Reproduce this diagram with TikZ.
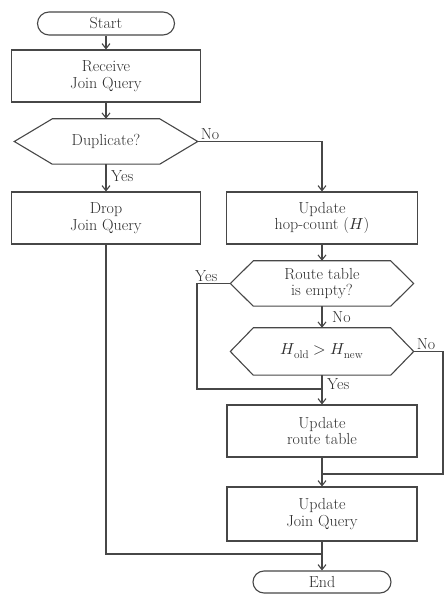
\documentclass[tikz,border=0pt]{standalone}
\usepackage{fontspec}
\usepackage{unicode-math}
\usetikzlibrary{shapes.misc,arrows.meta,calc}
\newcommand\nodefont{\fontsize{16}{16.5}\selectfont}
\newcommand\hexdraw[2]{\draw[line] (#1.west) -- ([xshift=#2]#1.north west) -- ([xshift=-#2]#1.north east) -- (#1.east) -- ([xshift=-#2]#1.south east) -- ([xshift=#2]#1.south west) -- cycle;}
\begin{document}
\begin{tikzpicture}[x=1pt,y=1pt,
  line/.style={draw=black!72, line width=1.1pt},
  arr/.style={line, -{Straight Barb[length=5pt,width=8pt]}},
  box/.style={draw=black!72, line width=1.1pt, rectangle, align=center, text=black!82, font=\nodefont, inner sep=0pt},
  term/.style={box, rounded rectangle},
  hexbox/.style={rectangle, align=center, text=black!82, font=\nodefont, inner sep=0pt},
  lab/.style={text=black!82, font=\nodefont, inner sep=2pt}]
\useasboundingbox (0,0) rectangle (444,595);

% left column
\node[term, minimum width=137pt, minimum height=23pt] (start) at (106,571.5) {Start};
\node[box, minimum width=189pt, minimum height=52pt] (recv) at (106,519) {Receive\\Join Query};
\node[hexbox, minimum width=183pt, minimum height=45pt] (dup) at (106,453.5) {Duplicate?};
\hexdraw{dup}{38pt}
\node[box, minimum width=189pt, minimum height=52pt] (drop) at (106,377) {Drop\\Join Query};

% right column
\node[box, minimum width=191pt, minimum height=52pt] (hop) at (322,377) {Update\\hop-count ($H$)};
\node[hexbox, minimum width=183pt, minimum height=45pt] (route) at (322,311.5) {Route table\\is empty?};
\hexdraw{route}{23pt}
\node[hexbox, minimum width=183pt, minimum height=47pt] (hold) at (322,243.5) {$H_{\mathrm{old}} > H_{\mathrm{new}}$};
\hexdraw{hold}{23pt}
\node[box, minimum width=190pt, minimum height=52pt] (rt) at (322,164) {Update\\route table};
\node[box, minimum width=190pt, minimum height=54pt] (ujq) at (322,81) {Update\\Join Query};
\node[term, minimum width=138pt, minimum height=22pt] (end) at (322,13) {End};

% junction points
\coordinate (c1) at (197,206);
\coordinate (c2) at (443,121);
\coordinate (c3) at (106,41);

% connectors
\draw[arr] (start.south) -- (recv.north);
\draw[arr] (recv.south) -- (dup.north);
\draw[arr] (dup.south) -- (drop.north);
\draw[arr] (dup.east) -| (hop.north);
\draw[arr] (hop.south) -- (route.north);
\draw[arr] (route.south) -- (hold.north);
\draw[line] (route.west) -| (c1) -- (c1 -| rt.north);
\draw[arr] (hold.south) -- (rt.north);
\draw[line] (hold.east) -| (c2) -- (c2 -| ujq.north);
\draw[arr] (rt.south) -- (ujq.north);
\draw[line] (drop.south) -- (c3) -- (c3 -| end.north);
\draw[arr] (ujq.south) -- (end.north);

% labels
\node[lab, anchor=south west] (ldupno) at ([xshift=1pt]dup.east) {No};
\node[lab, anchor=west] (ldupyes) at ([xshift=3pt,yshift=2pt]$(dup.south)!0.5!(drop.north)$) {Yes};
\node[lab, anchor=south west] (lrouteyes) at ([xshift=-4pt]c1 |- route.west) {Yes};
\node[lab, anchor=west] (lrouteno) at ([xshift=8pt]$(route.south)!0.5!(hold.north)$) {No};
\node[lab, anchor=south west] (lholdno) at ([xshift=1pt]hold.east) {No};
\node[lab, anchor=west] (lholdyes) at ([xshift=3pt,yshift=-9pt]hold.south) {Yes};
\end{tikzpicture}
\end{document}
